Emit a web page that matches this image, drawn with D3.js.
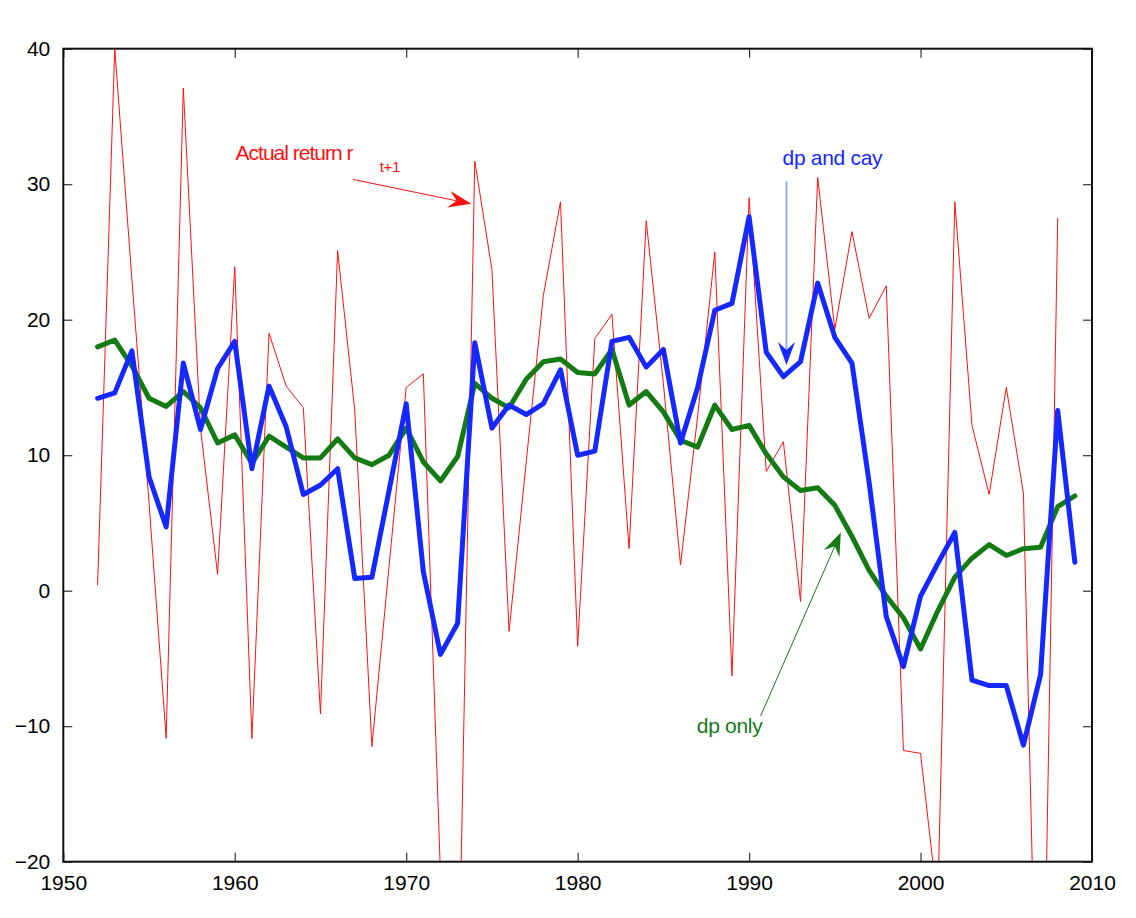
<!DOCTYPE html>
<html>
<head>
<meta charset="utf-8">
<script src="https://cdn.jsdelivr.net/npm/d3@7"></script>
<style>
  html, body { margin: 0; padding: 0; background: #fff; }
  svg { display: block; }
  text { font-family: "Liberation Sans", Arial, Helvetica, sans-serif; }
</style>
</head>
<body>
<svg id="chart" width="1136" height="918"></svg>
<script>
// ---- data ----
const years = [1952,1953,1954,1955,1956,1957,1958,1959,1960,1961,1962,1963,1964,1965,1966,1967,1968,1969,
  1970,1971,1972,1973,1974,1975,1976,1977,1978,1979,1980,1981,1982,1983,1984,1985,1986,1987,1988,1989,
  1990,1991,1992,1993,1994,1995,1996,1997,1998,1999,2000,2001,2002,2003,2004,2005,2006,2007,2008,2009];

// Actual return r_{t+1} (1952–2008)
const actualReturn = [0.4,40.0,23.0,6.5,-10.9,37.1,12.0,1.2,23.9,-10.9,19.0,15.1,13.5,-9.1,25.1,13.3,-11.5,1.8,
  15.0,16.0,-21.0,-33.5,31.7,23.7,-3.0,9.5,21.8,28.7,-4.1,18.6,20.4,3.1,27.3,15.3,1.9,12.9,25.0,-6.3,
  29.0,8.8,11.0,-0.8,30.5,19.3,26.5,20.1,22.5,-11.8,-12.0,-23.2,28.7,12.2,7.1,15.0,7.2,-46.0,27.5];

// Forecast using dp and cay (1952–2009)
const dpAndCay = [14.2,14.6,17.7,8.4,4.7,16.8,11.9,16.4,18.4,9.0,15.1,12.1,7.1,7.8,9.0,0.9,1.0,7.4,
  13.8,1.4,-4.7,-2.4,18.3,12.0,13.7,13.0,13.8,16.3,10.0,10.3,18.4,18.7,16.5,17.8,10.9,15.0,20.7,21.2,
  27.6,17.6,15.8,16.9,22.7,18.7,16.8,8.0,-1.9,-5.6,-0.4,2.0,4.3,-6.6,-7.0,-7.0,-11.4,-6.2,13.3,2.1];

// Forecast using dp only (1952–2009)
const dpOnly = [18.0,18.5,16.6,14.2,13.6,14.7,13.5,10.9,11.5,9.4,11.4,10.6,9.8,9.8,11.2,9.8,9.3,10.0,
  12.0,9.5,8.1,9.9,15.3,14.2,13.5,15.6,16.9,17.1,16.1,16.0,17.8,13.7,14.7,13.2,11.1,10.6,13.7,11.9,
  12.2,10.1,8.4,7.4,7.6,6.3,4.0,1.5,-0.4,-2.0,-4.3,-1.5,1.0,2.4,3.4,2.6,3.1,3.2,6.2,7.0];

const xTicks = [1950,1960,1970,1980,1990,2000,2010];
const yTicks = [-20,-10,0,10,20,30,40];

// annotations (data coordinates)
const labelActual = {text: "Actual return r", sub: "t+1", year: 1960.05, value: 31.8, subYear: 1968.45, subValue: 30.9};
const arrowActual = {from: [1966.9, 30.35], to: [1973.8, 28.55]};
const labelCay = {text: "dp and cay", year: 1991.95, value: 31.4};
const arrowCay = {from: [1992.18, 30.2], to: [1992.18, 16.65]};
const labelDp = {text: "dp only", year: 1986.95, value: -10.5};
const arrowDp = {from: [1990.67, -9.25], to: [1995.35, 4.3]};

// ---- layout ----
const svg = d3.select("#chart");
const pLeft = 63.3, pRight = 1092, pTop = 48.7, pBottom = 861.7;
const x = d3.scaleLinear().domain([1950, 2010]).range([pLeft, pRight]);
const y = d3.scaleLinear().domain([-20, 40]).range([pBottom, pTop]);

const RED = "#ff1010", BLUE = "#1428ff", GREEN = "#147a14";

svg.append("rect").attr("width", 1136).attr("height", 918).attr("fill", "#fff");

svg.append("defs").append("clipPath").attr("id", "plotclip")
  .append("rect").attr("x", pLeft).attr("y", pTop).attr("width", pRight - pLeft).attr("height", pBottom - pTop);

// axes
const axisFont = "21px";
const gB = svg.append("g").attr("transform", `translate(0,${pBottom})`)
  .call(d3.axisBottom(x).tickValues(xTicks).tickFormat(d3.format("d")).tickSizeInner(-9).tickSizeOuter(0).tickPadding(13));
const gT = svg.append("g").attr("transform", `translate(0,${pTop})`)
  .call(d3.axisTop(x).tickValues(xTicks).tickFormat("").tickSizeInner(-9).tickSizeOuter(0));
const gL = svg.append("g").attr("transform", `translate(${pLeft},0)`)
  .call(d3.axisLeft(y).tickValues(yTicks).tickFormat(d3.format("d")).tickSizeInner(-9).tickSizeOuter(0).tickPadding(13));
const gR = svg.append("g").attr("transform", `translate(${pRight},0)`)
  .call(d3.axisRight(y).tickValues(yTicks).tickFormat("").tickSizeInner(-9).tickSizeOuter(0));

[gB, gT, gL, gR].forEach(g => {
  g.select(".domain").remove();
  g.selectAll(".tick line").attr("stroke", "#333").attr("stroke-width", 1.2);
  g.selectAll(".tick text").attr("fill", "#000").style("font-size", axisFont)
    .style("font-family", '"Liberation Sans", Arial, sans-serif');
});
gB.selectAll(".tick text").attr("dy", "0.71em");

// data lines
const plot = svg.append("g").attr("clip-path", "url(#plotclip)");
const line = d3.line().x((d, i) => x(years[i])).y(d => y(d));

plot.append("path").datum(actualReturn).attr("d", line)
  .attr("fill", "none").attr("stroke", RED).attr("stroke-width", 1).attr("stroke-linejoin", "miter");
plot.append("path").datum(dpOnly).attr("d", line)
  .attr("fill", "none").attr("stroke", GREEN).attr("stroke-width", 5).attr("stroke-linejoin", "round").attr("stroke-linecap", "round");
plot.append("path").datum(dpAndCay).attr("d", line)
  .attr("fill", "none").attr("stroke", BLUE).attr("stroke-width", 5).attr("stroke-linejoin", "round").attr("stroke-linecap", "round");

// frame
svg.append("rect").attr("x", pLeft).attr("y", pTop).attr("width", pRight - pLeft).attr("height", pBottom - pTop)
  .attr("fill", "none").attr("stroke", "#111").attr("stroke-width", 2);

// arrows
function arrow(a, lineColor, headColor, lw) {
  const x1 = x(a.from[0]), y1 = y(a.from[1]), x2 = x(a.to[0]), y2 = y(a.to[1]);
  const dx = x2 - x1, dy = y2 - y1, L = Math.hypot(dx, dy);
  const ux = dx / L, uy = dy / L, px = -uy, py = ux;
  const hl = 23, hw = 8.5, notch = 15;
  svg.append("line").attr("x1", x1).attr("y1", y1)
    .attr("x2", x2 - ux * notch).attr("y2", y2 - uy * notch)
    .attr("stroke", lineColor).attr("stroke-width", lw);
  const p = [
    [x2, y2],
    [x2 - ux * hl + px * hw, y2 - uy * hl + py * hw],
    [x2 - ux * notch, y2 - uy * notch],
    [x2 - ux * hl - px * hw, y2 - uy * hl - py * hw]
  ];
  svg.append("path").attr("d", "M" + p.map(q => q.join(",")).join("L") + "Z").attr("fill", headColor);
}
arrow(arrowActual, RED, RED, 1);
arrow(arrowCay, "#8f9ff5", BLUE, 1.8);
arrow(arrowDp, GREEN, GREEN, 1);

// labels
svg.append("text").attr("x", x(labelActual.year)).attr("y", y(labelActual.value))
  .attr("fill", RED).style("font-size", "21px").style("letter-spacing", "-1px").text(labelActual.text);
svg.append("text").attr("x", x(labelActual.subYear)).attr("y", y(labelActual.subValue))
  .attr("fill", RED).style("font-size", "15px").style("letter-spacing", "-0.3px").text(labelActual.sub);
svg.append("text").attr("x", x(labelCay.year)).attr("y", y(labelCay.value))
  .attr("fill", BLUE).style("font-size", "21px").style("letter-spacing", "-0.3px").text(labelCay.text);
svg.append("text").attr("x", x(labelDp.year)).attr("y", y(labelDp.value))
  .attr("fill", GREEN).style("font-size", "21px").style("letter-spacing", "-0.3px").text(labelDp.text);
</script>
</body>
</html>
